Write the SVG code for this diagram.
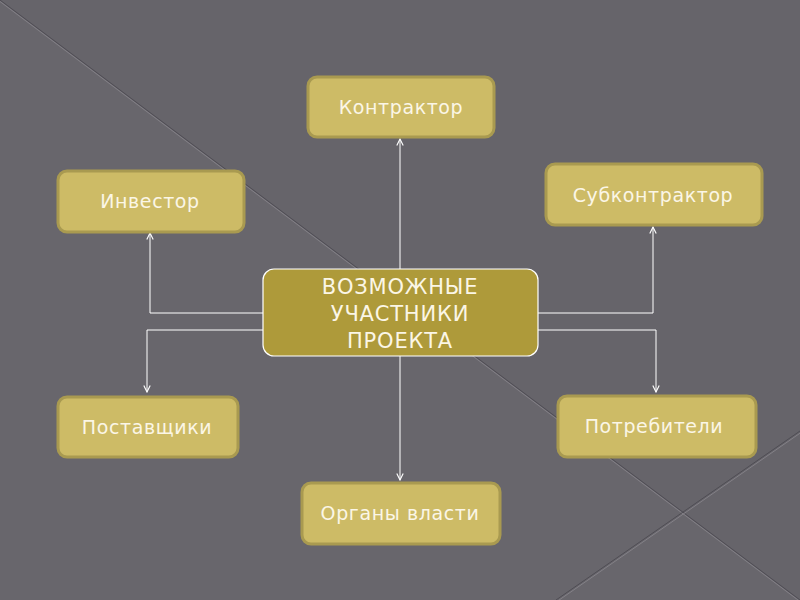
<svg xmlns="http://www.w3.org/2000/svg" width="800" height="600" viewBox="0 0 800 600">
<defs>
<marker id="arr" viewBox="0 0 10 10" refX="9" refY="5" markerWidth="8" markerHeight="8" markerUnits="userSpaceOnUse" orient="auto">
<path d="M1,1 L9,5 L1,9" fill="none" stroke="#ffffff" stroke-width="1.4"/>
</marker>
</defs>
<style>
.node rect { fill: #cdbb66; stroke: #a99a50; stroke-width: 3; }
.node text { fill: #fbf6e6; font-family: "DejaVu Sans", sans-serif; font-size: 19px; letter-spacing: 0.6px; text-anchor: middle; dominant-baseline: central; }
.center rect { fill: #ae9a3a; stroke: #ffffff; stroke-width: 1.2; }
.center text { fill: #fbf6e6; font-family: "DejaVu Sans", sans-serif; font-size: 21px; letter-spacing: 0.8px; text-anchor: middle; dominant-baseline: central; }
.conn path { fill: none; stroke: #ffffff; stroke-width: 1; }
</style>
<rect x="0" y="0" width="800" height="600" fill="#68666c"/>
<polygon points="0,0 800,0 800,600" fill="#66646a"/>
<g id="background-lines">
<line x1="0" y1="0" x2="800" y2="600" stroke="#4f4d54" stroke-width="1"/>
<line x1="0" y1="1.5" x2="800" y2="601.5" stroke="#8a888e" stroke-width="0.8"/>
<line x1="556" y1="600" x2="800" y2="431" stroke="#4f4d54" stroke-width="1"/>
<line x1="557" y1="601.5" x2="801" y2="432.5" stroke="#8a888e" stroke-width="0.8"/>
</g>
<g id="connectors" class="conn">
<path d="M400,269 V139" marker-end="url(#arr)"/>
<path d="M263,313 H150 V233" marker-end="url(#arr)"/>
<path d="M263,330 H147 V392" marker-end="url(#arr)"/>
<path d="M538,313 H653 V227" marker-end="url(#arr)"/>
<path d="M538,330 H656 V392" marker-end="url(#arr)"/>
<path d="M400,356 V480" marker-end="url(#arr)"/>
</g>
<g id="node-kontraktor" class="node">
<rect x="308" y="77" width="186" height="60" rx="9"/>
<text x="401" y="107">Контрактор</text>
</g>
<g id="node-investor" class="node">
<rect x="58" y="171" width="186" height="61" rx="9"/>
<text x="150" y="201">Инвестор</text>
</g>
<g id="node-subkontraktor" class="node">
<rect x="546" y="164" width="216" height="61" rx="9"/>
<text x="653" y="195">Субконтрактор</text>
</g>
<g id="node-postavshchiki" class="node">
<rect x="58" y="397" width="180" height="60" rx="9"/>
<text x="147" y="427">Поставщики</text>
</g>
<g id="node-potrebiteli" class="node">
<rect x="558" y="396" width="198" height="61" rx="9"/>
<text x="654" y="426">Потребители</text>
</g>
<g id="node-organy" class="node">
<rect x="302" y="483" width="198" height="61" rx="9"/>
<text x="400" y="513">Органы власти</text>
</g>
<g id="node-center" class="center">
<rect x="263" y="269" width="275" height="87" rx="11"/>
<text x="400" y="287">ВОЗМОЖНЫЕ</text>
<text x="400" y="314">УЧАСТНИКИ</text>
<text x="400" y="341">ПРОЕКТА</text>
</g>
</svg>
